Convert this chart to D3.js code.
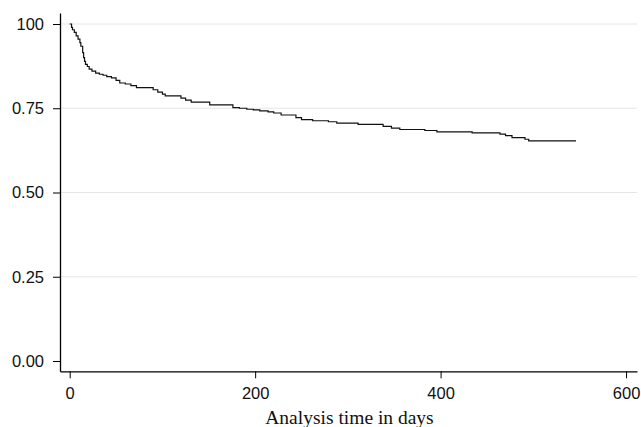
<!DOCTYPE html>
<html>
<head>
<meta charset="utf-8">
<script src="https://cdn.jsdelivr.net/npm/d3@7"></script>
<style>
  html, body { margin: 0; padding: 0; background: #ffffff; }
  svg { display: block; }
  .tick text { font-family: "Liberation Sans", Arial, Helvetica, sans-serif; }
</style>
</head>
<body>
<svg id="chart" width="641" height="427"></svg>
<script>
// Kaplan-Meier survival estimate
const times = [0, 2, 3, 5, 7, 9, 11, 12, 14, 15, 16, 17, 19, 21, 24, 28, 32, 36, 40, 45, 50, 54, 60, 66, 72,
  90, 95, 100, 103, 120, 125, 131, 151, 176, 183, 191, 198, 205, 214, 220, 228, 244, 250, 262, 279, 288,
  311, 338, 347, 356, 383, 396, 434, 464, 470, 477, 491, 495, 546];
const survival = [1.000, 0.990, 0.983, 0.975, 0.965, 0.955, 0.945, 0.934, 0.915, 0.900, 0.889, 0.880, 0.874,
  0.866, 0.860, 0.854, 0.851, 0.848, 0.844, 0.840, 0.833, 0.825, 0.822, 0.817, 0.811,
  0.805, 0.798, 0.792, 0.787, 0.780, 0.774, 0.768, 0.760, 0.752, 0.750, 0.747, 0.745, 0.742, 0.739, 0.736,
  0.730, 0.722, 0.716, 0.713, 0.710, 0.706, 0.702, 0.696, 0.691, 0.687, 0.684, 0.680, 0.677, 0.673, 0.669,
  0.663, 0.658, 0.653, 0.653];

const xTicks = [0, 200, 400, 600];
const xTickLabels = ["0", "200", "400", "600"];
const yTicks = [0, 0.25, 0.5, 0.75, 1];
const yTickLabels = ["0.00", "0.25", "0.50", "0.75", "100"];
const xTitle = "Analysis time in days";

const data = times.map((t, i) => ({ t: t, s: survival[i] }));

const svg = d3.select("#chart");

const x = d3.scaleLinear().domain([-10.46, 611.8]).range([60, 637]);
const y = d3.scaleLinear().domain([-0.0306, 1.0327]).range([371.3, 13]);

// gridlines
svg.append("g")
  .selectAll("line")
  .data(yTicks.filter(d => d > 0))
  .join("line")
  .attr("x1", x.range()[0]).attr("x2", x.range()[1])
  .attr("y1", d => y(d)).attr("y2", d => y(d))
  .attr("stroke", "#e6e6e6")
  .attr("stroke-width", 1);

// y axis
const yAxis = svg.append("g")
  .attr("transform", `translate(${x.range()[0]},0)`)
  .call(d3.axisLeft(y).tickValues(yTicks)
    .tickFormat((d, i) => yTickLabels[i])
    .tickSize(7).tickSizeOuter(0).tickPadding(9));
yAxis.selectAll("path.domain").attr("stroke", "#000").attr("stroke-width", 1.3);
yAxis.selectAll(".tick line").attr("stroke", "#000").attr("stroke-width", 1);
yAxis.selectAll(".tick text").attr("font-size", 16.5).attr("fill", "#111");

// x axis
const xAxis = svg.append("g")
  .attr("transform", `translate(0,${y.range()[0]})`)
  .call(d3.axisBottom(x).tickValues(xTicks)
    .tickFormat((d, i) => xTickLabels[i])
    .tickSize(7).tickSizeOuter(0).tickPadding(9));
xAxis.selectAll("path.domain").attr("stroke", "#000").attr("stroke-width", 1.3);
xAxis.selectAll(".tick line").attr("stroke", "#000").attr("stroke-width", 1);
xAxis.selectAll(".tick text").attr("font-size", 16.5).attr("fill", "#111");

// survival curve
const line = d3.line()
  .x(d => x(d.t))
  .y(d => y(d.s))
  .curve(d3.curveStepAfter);

svg.append("path")
  .datum(data)
  .attr("d", line)
  .attr("fill", "none")
  .attr("stroke", "#111")
  .attr("stroke-width", 1.2);

// axis title
svg.append("text")
  .attr("x", (x.range()[0] + x.range()[1]) / 2 + 1)
  .attr("y", 424)
  .attr("text-anchor", "middle")
  .attr("font-family", "'Liberation Serif', 'Times New Roman', Times, serif")
  .attr("font-size", 19.5)
  .attr("fill", "#111")
  .text(xTitle);
</script>
</body>
</html>
